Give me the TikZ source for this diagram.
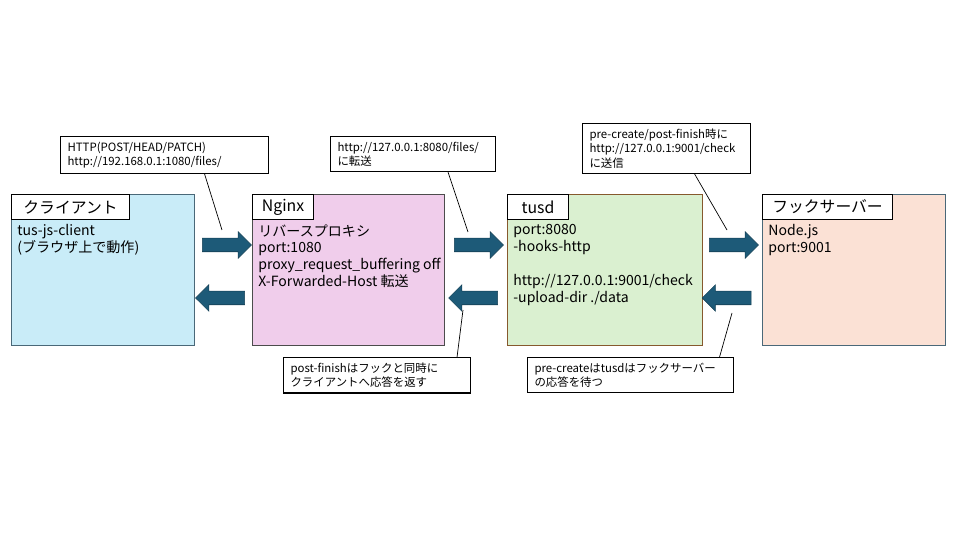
\documentclass[tikz,border=0pt]{standalone}
\usepackage{fontspec}
\setmainfont{Noto Sans CJK JP}
\usetikzlibrary{shapes.arrows, positioning}

\definecolor{clientfill}{HTML}{C9ECF8}
\definecolor{nginxfill}{HTML}{F0CDEB}
\definecolor{tusdfill}{HTML}{DAF0D0}
\definecolor{hookfill}{HTML}{FBE1D5}
\definecolor{arrowblue}{HTML}{1D5A78}

\tikzset{
  panel/.style={draw=#1, line width=0.6pt, minimum height=151*0.02cm, anchor=north west},
  tab/.style={draw=black, fill=white, line width=0.6pt, anchor=north west, minimum height=25*0.02cm,
    font=\fontsize{9}{10}\selectfont, inner sep=0pt},
  body/.style={anchor=north west, align=left, font=\fontsize{8}{9.6}\selectfont, inner sep=0pt},
  callout/.style={draw=black, fill=white, line width=0.6pt, anchor=north west, align=left,
    font=\fontsize{6.5}{8.2}\selectfont, inner xsep=4pt, inner ysep=3pt},
  flow/.style={single arrow, fill=arrowblue, draw=arrowblue!70!black, line width=0.3pt,
    minimum height=49*0.02cm, minimum width=26*0.02cm, single arrow head extend=0.13cm,
    inner xsep=0pt, inner ysep=0.13cm, text height=0pt, text depth=0pt, anchor=center},
}

\begin{document}
\begin{tikzpicture}[x=0.02cm, y=-0.02cm]
    \useasboundingbox (0,0) rectangle (960,540);

    % Panels
    \node[panel=black!60!cyan, fill=clientfill, minimum width=183*0.02cm] (client) at (11,194) {};
    \node[panel=black!70, fill=nginxfill, minimum width=192*0.02cm] (nginx) at (252,194) {};
    \node[panel=brown!70!black, fill=tusdfill, minimum width=195*0.02cm] (tusd) at (507,194) {};
    \node[panel=black!60!cyan, fill=hookfill, minimum width=183*0.02cm] (hook) at (762,194) {};

    % Title tabs
    \node[tab, minimum width=118*0.02cm] (clienttab) at (11,194) {クライアント};
    \node[tab, minimum width=61*0.02cm] (nginxtab) at (252,194) {Nginx};
    \node[tab, minimum width=61*0.02cm] (tusdtab) at (507,194) {tusd};
    \node[tab, minimum width=130*0.02cm] (hooktab) at (762,194) {フックサーバー};

    % Panel texts
    \node[body] (clienttext) at (17,224) {tus-js-client\\(ブラウザ上で動作)};
    \node[body] (nginxtext) at (258,224) {リバースプロキシ\\port:1080\\proxy\_request\_buffering off\\X-Forwarded-Host 転送};
    \node[body] (tusdtext) at (513,224) {port:8080\\-hooks-http\\[9.6pt]http://127.0.0.1:9001/check\\-upload-dir ./data};
    \node[body] (hooktext) at (768,224) {Node.js\\port:9001};

    % Flow arrows
    \node[flow] (a1) at (223.5,245) {};
    \node[flow, shape border rotate=180] (a2) at (223.5,298) {};
    \node[flow] (a3) at (475.5,245) {};
    \node[flow, shape border rotate=180] (a4) at (476.5,298) {};
    \node[flow] (a5) at (730.5,245) {};
    \node[flow, shape border rotate=180] (a6) at (730,298) {};

    % Callouts
    \node[callout, text width=194*0.02cm] (c1) at (60,136) {HTTP(POST/HEAD/PATCH)\\http://192.168.0.1:1080/files/};
    \node[callout, text width=151*0.02cm] (c2) at (330,136) {http://127.0.0.1:8080/files/\\に転送};
    \node[callout, text width=154*0.02cm] (c3) at (582,123) {pre-create/post-finish時に\\http://127.0.0.1:9001/check\\に送信};
    \node[callout, text width=173*0.02cm] (c4) at (283,357) {post-finishはフックと同時に\\クライアントへ応答を返す};
    \node[callout, text width=192*0.02cm] (c5) at (527,357) {pre-createはtusdはフックサーバー\\の応答を待つ};

    \coordinate (p1) at (222,230);
    \coordinate (p2) at (468,232);
    \coordinate (p3) at (727,230);
    \coordinate (p4) at (463,310);
    \coordinate (p5) at (732,313);
    \draw (c1.south) ++(40*0.02cm,0) coordinate (q1) (q1) -- (p1);
    \draw (c2.south) ++(35*0.02cm,0) coordinate (q2) (q2) -- (p2);
    \draw (c3.south) ++(28*0.02cm,0) coordinate (q3) (q3) -- (p3);
    \draw (c4.north) ++(80*0.02cm,0) coordinate (q4) (q4) -- (p4);
    \draw (c5.north) ++(89*0.02cm,0) coordinate (q5) (q5) -- (p5);
\end{tikzpicture}
\end{document}
